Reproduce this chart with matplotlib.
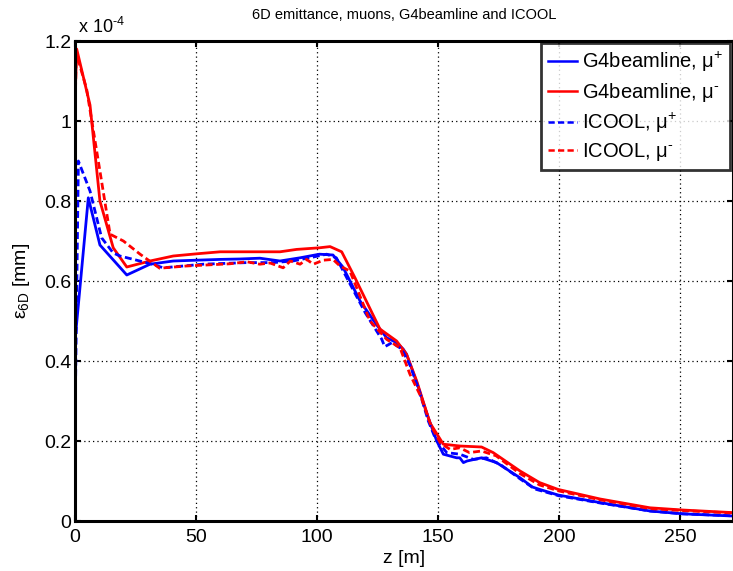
import matplotlib
matplotlib.use("Agg")
import matplotlib.pyplot as plt
from matplotlib.ticker import FixedLocator, FuncFormatter

plt.rcParams['font.family'] = ['Liberation Sans', 'DejaVu Sans']
plt.rcParams['mathtext.fontset'] = 'custom'
plt.rcParams['mathtext.rm'] = 'Liberation Sans'
plt.rcParams['mathtext.it'] = 'Liberation Sans'

# emittance values in units of 1e-4 mm
z_g4_mup = [0, 5.5, 10.3, 21.4, 31, 40.6, 50, 60, 68, 76.4, 84.7, 93, 101, 106.6, 110.7,
            117.8, 124.7, 128.8, 132.9, 135.6, 137, 141, 146, 149.5, 152.2, 157.7, 159,
            160.5, 162, 168, 174.2, 183.9, 189, 192, 199.6, 217, 237.6, 251, 271.7]
e_g4_mup = [0.45, 0.808, 0.69, 0.615, 0.642, 0.65, 0.652, 0.654, 0.655, 0.657, 0.65, 0.658,
            0.667, 0.665, 0.635, 0.55, 0.49, 0.458, 0.446, 0.43, 0.417, 0.35, 0.258, 0.2,
            0.167, 0.158, 0.158, 0.146, 0.15, 0.158, 0.146, 0.108, 0.085, 0.079, 0.065,
            0.046, 0.025, 0.018, 0.0125]

z_g4_mum = [0, 0.7, 6.2, 10.3, 15.8, 21.4, 31, 40.6, 50.3, 60, 73.7, 84.7, 91.6, 101, 105.4,
            110.2, 115.7, 126, 132.9, 137, 141.2, 146.7, 152.2, 159, 168, 172.8, 183.9, 192,
            199.6, 217, 237.6, 251, 271.7]
e_g4_mum = [1.05, 1.18, 1.04, 0.8, 0.683, 0.635, 0.65, 0.6625, 0.668, 0.673, 0.673, 0.673,
            0.679, 0.683, 0.686, 0.673, 0.608, 0.48, 0.45, 0.417, 0.35, 0.245, 0.192, 0.1875,
            0.185, 0.171, 0.125, 0.096, 0.079, 0.055, 0.033, 0.0275, 0.021]

z_ic_mup = [0, 1.4, 6.2, 11, 15.8, 18.6, 32, 36.4, 53, 71, 82, 90, 98.5, 104, 108, 113, 120,
            126.7, 128, 129.3, 131, 135, 138.4, 142, 146, 149, 153.6, 159, 164.6, 170, 176,
            184, 190, 200, 217, 237.6, 251, 271.7]
e_ic_mup = [0.23, 0.9, 0.825, 0.708, 0.67, 0.6625, 0.642, 0.633, 0.642, 0.646, 0.646, 0.65,
            0.66, 0.667, 0.658, 0.6, 0.52, 0.455, 0.436, 0.44, 0.446, 0.43, 0.39, 0.33, 0.25,
            0.205, 0.171, 0.167, 0.154, 0.158, 0.14, 0.105, 0.08, 0.063, 0.045, 0.025, 0.018,
            0.013]

z_ic_mum = [0, 0.5, 4.8, 10.3, 14.5, 20, 26.9, 35, 46, 64, 71, 76.4, 80.6, 86, 89, 93, 95.7,
            98.5, 102.6, 106.6, 109.5, 113.6, 121.9, 128.8, 134.3, 138.4, 143, 147, 151, 155,
            159, 163, 168, 174, 184, 192, 200, 217, 237.6, 251, 271.7]
e_ic_mum = [1.0, 1.17, 1.08, 0.875, 0.717, 0.7, 0.667, 0.632, 0.6375, 0.643, 0.648, 0.642,
            0.645, 0.633, 0.65, 0.642, 0.654, 0.642, 0.652, 0.654, 0.6375, 0.625, 0.5, 0.454,
            0.433, 0.367, 0.31, 0.24, 0.195, 0.179, 0.183, 0.171, 0.175, 0.163, 0.118, 0.09,
            0.075, 0.053, 0.031, 0.026, 0.02]

labels = ['G4beamline, μ$^{+}$', 'G4beamline, μ$^{\u2010}$', 'ICOOL, μ$^{+}$', 'ICOOL, μ$^{\u2010}$']
x_ticks = [0, 50, 100, 150, 200, 250]
y_ticks = [0, 0.2, 0.4, 0.6, 0.8, 1.0, 1.2]

fig = plt.figure(figsize=(7.33, 5.71), dpi=100)
ax = fig.add_axes([75/733, 50/571, 657.5/733, 480/571])

lw = 2
ax.plot(z_g4_mup, e_g4_mup, color=(0, 0, 1), lw=lw, label=labels[0])
ax.plot(z_g4_mum, e_g4_mum, color=(1, 0, 0), lw=lw, label=labels[1])
ax.plot(z_ic_mup, e_ic_mup, color=(0, 0, 1), lw=lw, ls='--', dashes=(2.5, 1.3), label=labels[2])
ax.plot(z_ic_mum, e_ic_mum, color=(1, 0, 0), lw=lw, ls='--', dashes=(2.5, 1.3), label=labels[3])

ax.set_xlim(0, 271.7)
ax.set_ylim(0, 1.2)
ax.xaxis.set_major_locator(FixedLocator(x_ticks))
ax.yaxis.set_major_locator(FixedLocator(y_ticks))
ax.yaxis.set_major_formatter(FuncFormatter(lambda v, p: '%g' % round(v, 3)))
ax.xaxis.set_major_formatter(FuncFormatter(lambda v, p: '%g' % v))
ax.tick_params(direction='in', length=4, width=1.5, top=True, right=True, labelsize=14)
ax.tick_params(axis='x', pad=5.5)
ax.tick_params(axis='y', pad=2.5)
ax.grid(True, color='black', linestyle=(0, (1, 2.5)), linewidth=0.9)
for s in ax.spines.values():
    s.set_linewidth(2.2)

ax.set_title('6D emittance, muons, G4beamline and ICOOL', fontsize=10.5, pad=16)
ax.set_xlabel('z [m]', fontsize=14, labelpad=3)
ax.set_ylabel('ε$_{6D}$ [mm]', fontsize=14, labelpad=9)
ax.text(0.004, 1.008, 'x 10$^{\u20104}$', transform=ax.transAxes, ha='left', va='bottom',
        fontsize=13)

leg = ax.legend(loc='upper right', fontsize=14.5, frameon=True, fancybox=False,
                edgecolor='black', borderaxespad=0.1, handlelength=1.45,
                handletextpad=0.25, labelspacing=0.33, borderpad=0.35)
leg.get_frame().set_linewidth(2)
for h in leg.get_lines():
    h.set_linewidth(1.8)

fig.savefig('out.png', dpi=100)
